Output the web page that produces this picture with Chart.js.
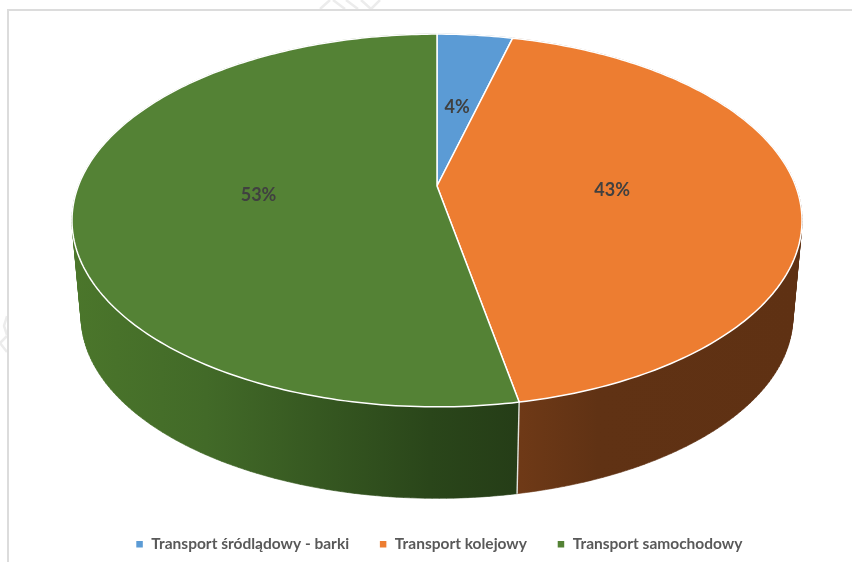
<!DOCTYPE html>
<html>
<head>
<meta charset="utf-8">
<title>Transport</title>
<style>
  html, body { margin: 0; padding: 0; background: #fff; overflow: hidden; }
  canvas { display: block; }
</style>
<script src="https://cdn.jsdelivr.net/npm/chart.js@4/dist/chart.umd.min.js"></script>
</head>
<body>
<canvas id="pieChart" width="852" height="562"></canvas>
<script>
var categories = ['Transport śródlądowy - barki', 'Transport kolejowy', 'Transport samochodowy'];
var shares = [4, 43, 53];

var colors = ['#5b9bd5', '#ed7d31', '#548235'];
// side wall shading, left to right
var sideColors = [
  [[0, '#335e80'], [1, '#335e80']],
  [[0, '#703a17'], [0.3, '#603214'], [1, '#5f3113']],
  [[0, '#4b762b'], [0.3, '#426a28'], [0.8, '#2a461a'], [1, '#253d17']]
];
// label nudges in px, excel does not put them exactly on the mid angle
var labelNudge = [[0, 1], [-1, 1], [-2, 1]];

// perspective view of the pie
var view = { shiftX: -2, cy: 186, a: 180, b: 358.7, k: 0.185, depth: 97, shrink: 0.975 };

// bits of the page watermark that stick out around the chart frame
var watermark = [
  [[330, 0], [320, 9]],
  [[333, 0], [345, 9]],
  [[346, 0], [358, 9]],
  [[361, 0], [371, 9], [380, 0]],
  [[7, 316], [4, 326], [7, 335]],
  [[7, 336], [0, 343], [7, 352]]
];

function project(arc, angle, r, lower) {
  var phi = angle + Math.PI / 2;
  var X = r * Math.sin(phi), Y = -r * Math.cos(phi);
  var w = 1 - view.k * Y;
  var s = lower ? view.shrink : 1;
  return {
    x: arc.x + view.shiftX + s * view.b * X / w,
    y: view.cy + (lower ? view.depth : 0) + s * view.a * Y / w
  };
}

function rimPoints(arc, lower) {
  var pts = [];
  var n = Math.max(8, Math.ceil((arc.endAngle - arc.startAngle) * 60));
  for (var i = 0; i <= n; i++) {
    pts.push(project(arc, arc.startAngle + (arc.endAngle - arc.startAngle) * i / n, 1, lower));
  }
  return pts;
}

function signedArea(q) {
  var sum = 0;
  for (var i = 0; i < q.length; i++) {
    var p = q[i], n = q[(i + 1) % q.length];
    sum += p.x * n.y - n.x * p.y;
  }
  return sum;
}

function drawSide(ctx, arc, stops) {
  var top = rimPoints(arc, false), low = rimPoints(arc, true);
  var xs = top.concat(low).map(function (p) { return p.x; });
  var minX = Math.min.apply(null, xs), maxX = Math.max.apply(null, xs);
  var grad = ctx.createLinearGradient(minX, 0, maxX, 0);
  stops.forEach(function (s) { grad.addColorStop(s[0], s[1]); });
  ctx.fillStyle = grad;
  ctx.strokeStyle = grad;
  ctx.lineWidth = 0.6;
  // one path for all quads, otherwise the antialiased joins show as stripes.
  // all wound the same way so overlaps near the silhouette do not cancel out
  ctx.beginPath();
  for (var i = 0; i < top.length - 1; i++) {
    var q = [top[i], top[i + 1], low[i + 1], low[i]];
    if (signedArea(q) < 0) q.reverse();
    ctx.moveTo(q[0].x, q[0].y);
    ctx.lineTo(q[1].x, q[1].y);
    ctx.lineTo(q[2].x, q[2].y);
    ctx.lineTo(q[3].x, q[3].y);
    ctx.closePath();
  }
  ctx.fill();
  ctx.stroke();
}

var pie3d = {
  id: 'pie3d',
  beforeDraw: function (chart) {
    var ctx = chart.ctx;
    ctx.save();
    ctx.strokeStyle = '#ececec';
    ctx.lineWidth = 2.5;
    watermark.forEach(function (line) {
      ctx.beginPath();
      line.forEach(function (p, i) {
        if (i === 0) ctx.moveTo(p[0], p[1]);
        else ctx.lineTo(p[0], p[1]);
      });
      ctx.stroke();
    });
    // chart frame, only top and left are visible in the screenshot
    ctx.strokeStyle = '#dcdcdc';
    ctx.lineWidth = 2;
    ctx.beginPath();
    ctx.moveTo(8, 562);
    ctx.lineTo(8, 10);
    ctx.lineTo(852, 10);
    ctx.stroke();
    ctx.restore();
  },
  beforeDatasetDraw: function (chart, args) {
    var ctx = chart.ctx;
    var arcs = chart.getDatasetMeta(args.index).data;
    ctx.save();
    ctx.lineJoin = 'round';

    arcs.forEach(function (arc, i) { drawSide(ctx, arc, sideColors[i]); });

    // seams between the walls
    arcs.forEach(function (arc) {
      var a = project(arc, arc.endAngle, 1, false), b = project(arc, arc.endAngle, 1, true);
      ctx.strokeStyle = '#e4e4e0';
      ctx.lineWidth = 1.4;
      ctx.beginPath();
      ctx.moveTo(a.x, a.y);
      ctx.lineTo(b.x, b.y);
      ctx.stroke();
    });

    // top faces
    arcs.forEach(function (arc) {
      var pts = rimPoints(arc, false);
      var c = project(arc, 0, 0, false);
      ctx.beginPath();
      ctx.moveTo(c.x, c.y);
      pts.forEach(function (p) { ctx.lineTo(p.x, p.y); });
      ctx.closePath();
      ctx.fillStyle = arc.options.backgroundColor;
      ctx.fill();
      ctx.strokeStyle = arc.options.borderColor;
      ctx.lineWidth = arc.options.borderWidth;
      ctx.stroke();
    });

    // percent labels
    ctx.font = 'bold 18px Lato';
    ctx.fillStyle = '#404040';
    ctx.textAlign = 'center';
    ctx.textBaseline = 'middle';
    arcs.forEach(function (arc, i) {
      var p = project(arc, (arc.startAngle + arc.endAngle) / 2, 0.49, false);
      ctx.fillText(shares[i] + '%', p.x + labelNudge[i][0], p.y + labelNudge[i][1]);
    });
    ctx.restore();
    return false;
  }
};

new Chart(document.getElementById('pieChart').getContext('2d'), {
  type: 'pie',
  data: {
    labels: categories,
    datasets: [{
      data: shares,
      backgroundColor: colors,
      borderColor: '#ffffff',
      borderWidth: 1.5
    }]
  },
  options: {
    responsive: false,
    animation: false,
    layout: { padding: { left: 26, bottom: 0 } },
    plugins: {
      tooltip: { enabled: false },
      legend: {
        position: 'bottom',
        labels: {
          usePointStyle: true,
          pointStyle: 'rect',
          pointStyleWidth: 8,
          boxHeight: 8,
          padding: 30,
          color: '#595959',
          font: { family: 'Lato', size: 15.5, weight: 'bold' }
        }
      }
    }
  },
  plugins: [pie3d]
});
</script>
</body>
</html>
